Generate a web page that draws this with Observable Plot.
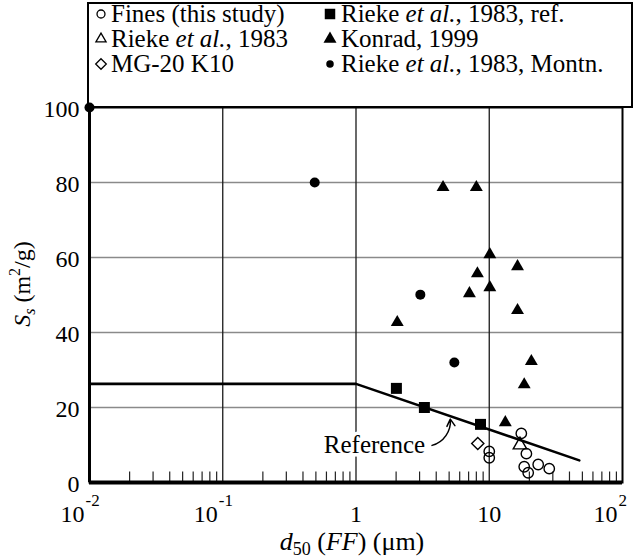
<!DOCTYPE html>
<html><head><meta charset="utf-8">
<script src="https://cdn.jsdelivr.net/npm/d3@7"></script>
<script src="https://cdn.jsdelivr.net/npm/@observablehq/plot@0.6"></script>
<style>
body{margin:0;background:#fff;}
#wrap{position:relative;width:640px;height:560px;}
#overlay{position:absolute;left:0;top:0;pointer-events:none;}
</style></head><body><div id="wrap"></div>
<script>
// ---- data ----
const xTicks = [0.01, 0.1, 1, 10, 100];
const xTickBase = ["10", "10", "1", "10", "10"];
const xTickExp = ["-2", "-1", "", "", "2"];
const yTicks = [0, 20, 40, 60, 80, 100];
const gridY = [20, 40, 60, 80];
const gridX = [0.1, 1, 10];
const minorX = [0.02,0.03,0.04,0.05,0.06,0.07,0.08,0.09,
                0.2,0.3,0.4,0.5,0.6,0.7,0.8,0.9,
                2,3,4,5,6,7,8,9,
                20,30,40,50,60,70,80,90];

const finesX = [10, 10, 17.4, 19, 18.3, 19.6, 23.3, 28.2];
const finesY = [8.3, 6.6, 13.1, 7.7, 4.2, 2.6, 4.8, 3.7];
const rieke83X = [17];
const rieke83Y = [10];
const mg20X = [8.2];
const mg20Y = [10.4];
const riekeRefX = [2.01, 3.26, 8.6];
const riekeRefY = [25.1, 20, 15.5];
const konradX = [2.04, 4.5, 8.0, 10.1, 16.3, 8.15, 7.1, 10.1, 16.3, 20.7, 18.3, 13.2];
const konradY = [42.7, 78.7, 78.7, 60.8, 57.6, 55.7, 50.4, 52, 45.9, 32.3, 26.1, 16];
const montnX = [0.01, 0.49, 3.04, 5.47];
const montnY = [100, 80, 50.1, 32];

const refLineX = [0.01, 1, 47.4];
const refLineY = [26.3, 26.3, 5.9];
const refLabel = ["Reference"];
const refLabelX = [3.3];
const refLabelY = [9.9];
const arrowX1 = [3.72], arrowY1 = [9.9], arrowX2 = [5.1], arrowY2 = [16.9];

const legendLabels = [
  [{t: "Fines (this study)"}],
  [{t: "Rieke "}, {t: "et al.", i: 1}, {t: ", 1983"}],
  [{t: "MG-20 K10"}],
  [{t: "Rieke "}, {t: "et al.", i: 1}, {t: ", 1983, ref."}],
  [{t: "Konrad, 1999"}],
  [{t: "Rieke "}, {t: "et al.", i: 1}, {t: ", 1983, Montn."}]
];
const legendSymbols = ["circle", "triangle", "diamond2", "square", "triangle", "circle"];
const legendFilled = [false, false, false, true, true, true];

// ---- tables ----
const zip = (xs, ys) => xs.map((x, i) => ({x, y: ys[i]}));
const xTickTable = xTicks.map((v, i) => ({v, base: xTickBase[i], exp: xTickExp[i]}));
const refLine = zip(refLineX, refLineY);
const labelRows = refLabel.map((t, i) => ({t, x: refLabelX[i], y: refLabelY[i]}));
const arrowRows = arrowX1.map((x1, i) => ({x1, y1: arrowY1[i], x2: arrowX2[i], y2: arrowY2[i]}));

const FONT = '"Liberation Serif", "Times New Roman", serif';

const plot = Plot.plot({
  width: 640, height: 560,
  marginLeft: 89, marginRight: 18, marginTop: 107, marginBottom: 78,
  style: {fontFamily: FONT, fontSize: "24px", color: "#000", background: "#fff", overflow: "visible"},
  x: {type: "log", domain: [0.01, 100], axis: null},
  y: {domain: [0, 100]},
  marks: [
    Plot.ruleY(gridY, {stroke: "#8a8a8a", strokeWidth: 1.4}),
    Plot.ruleX(gridX, {stroke: "#1a1a1a", strokeWidth: 1.3}),
    Plot.ruleX(minorX, {x: d => d, y1: 0, y2: 2.8, stroke: "#222", strokeWidth: 1.2}),
    Plot.frame({stroke: "#000", strokeWidth: 2}),
    Plot.ruleX([0.01], {stroke: "#000", strokeWidth: 3}),
    Plot.ruleY([0], {stroke: "#000", strokeWidth: 4}),
    Plot.axisY({ticks: yTicks, tickSize: 0, tickPadding: 10, fontSize: 24, dy: 2, label: null}),
    Plot.text(xTickTable.filter(d => d.exp), {x: "v", y: () => 0, text: "base", textAnchor: "end", dx: -5, dy: 32, fontSize: 24}),
    Plot.text(xTickTable.filter(d => !d.exp), {x: "v", y: () => 0, text: "base", dy: 32, fontSize: 24}),
    Plot.text(xTickTable.filter(d => d.exp), {x: "v", y: () => 0, text: "exp", textAnchor: "start", dx: -4, dy: 18, fontSize: 17}),
    Plot.line(refLine, {x: "x", y: "y", stroke: "#000", strokeWidth: 2.6}),
    Plot.text(labelRows, {x: "x", y: "y", text: "t", textAnchor: "end", fontSize: 25, fill: "#000", stroke: "#fff", strokeWidth: 7, paintOrder: "stroke"}),
    Plot.arrow(arrowRows, {x1: "x1", y1: "y1", x2: "x2", y2: "y2", bend: -40, headLength: 8, stroke: "#000", strokeWidth: 1.5}),
    Plot.dot(zip(finesX, finesY), {x: "x", y: "y", r: 5.2, symbol: "circle", stroke: "#000", fill: "none", strokeWidth: 1.4}),
    Plot.dot(zip(rieke83X, rieke83Y), {x: "x", y: "y", r: 5, symbol: "triangle", stroke: "#000", fill: "none", strokeWidth: 1.4}),
    Plot.dot(zip(mg20X, mg20Y), {x: "x", y: "y", r: 5.5, symbol: "diamond2", stroke: "#000", fill: "none", strokeWidth: 1.4}),
    Plot.dot(zip(riekeRefX, riekeRefY), {x: "x", y: "y", r: 6.2, symbol: "square", fill: "#000", stroke: "none"}),
    Plot.dot(zip(konradX, konradY), {x: "x", y: "y", r: 4.8, symbol: "triangle", fill: "#000", stroke: "none"}),
    Plot.dot(zip(montnX, montnY), {x: "x", y: "y", r: 5, symbol: "circle", fill: "#000", stroke: "none"})
  ]
});

const wrap = document.getElementById("wrap");
wrap.appendChild(plot);

// ---- overlay: legend + axis titles ----
const ov = d3.select(wrap).append("svg").attr("id", "overlay")
  .attr("width", 640).attr("height", 560)
  .style("font-family", FONT);

ov.append("rect").attr("x", 88).attr("y", 3).attr("width", 544).attr("height", 104)
  .attr("fill", "none").attr("stroke", "#000").attr("stroke-width", 2);

const symTypes = {circle: d3.symbolCircle, triangle: d3.symbolTriangle, diamond2: d3.symbolDiamond2, square: d3.symbolSquare};
const symSizes = [50, 45, 72, 110, 73, 44];
const colMarkX = [101, 330], colTextX = [111, 341];
const rowBase = [22, 47, 72], rowMark = [14, 39, 64];

legendLabels.forEach((parts, i) => {
  const col = i < 3 ? 0 : 1, row = i % 3;
  ov.append("path")
    .attr("d", d3.symbol(symTypes[legendSymbols[i]], symSizes[i])())
    .attr("transform", `translate(${colMarkX[col]},${rowMark[row]})`)
    .attr("fill", legendFilled[i] ? "#000" : "none")
    .attr("stroke", legendFilled[i] ? "none" : "#000")
    .attr("stroke-width", 1.3);
  const t = ov.append("text").attr("x", colTextX[col]).attr("y", rowBase[row])
    .attr("font-size", 25).attr("fill", "#000");
  parts.forEach(p => t.append("tspan").attr("font-style", p.i ? "italic" : "normal").text(p.t));
});

// y title
const yt = ov.append("text").attr("transform", "translate(30,284) rotate(-90)")
  .attr("text-anchor", "middle").attr("font-size", 24).attr("fill", "#000");
yt.append("tspan").attr("font-style", "italic").text("S");
yt.append("tspan").attr("font-style", "italic").attr("font-size", 16).attr("dy", 5).text("s");
yt.append("tspan").attr("dy", -5).text(" (m");
yt.append("tspan").attr("font-size", 16).attr("dy", -10).text("2");
yt.append("tspan").attr("dy", 10).text("/g)");

// x title
const xt = ov.append("text").attr("x", 352).attr("y", 550)
  .attr("text-anchor", "middle").attr("font-size", 26).attr("fill", "#000");
xt.append("tspan").attr("font-style", "italic").text("d");
xt.append("tspan").attr("font-size", 18).attr("dy", 5).text("50");
xt.append("tspan").attr("dy", -5).text(" (");
xt.append("tspan").attr("font-style", "italic").text("FF");
xt.append("tspan").text(") (μm)");
</script>
</body></html>
